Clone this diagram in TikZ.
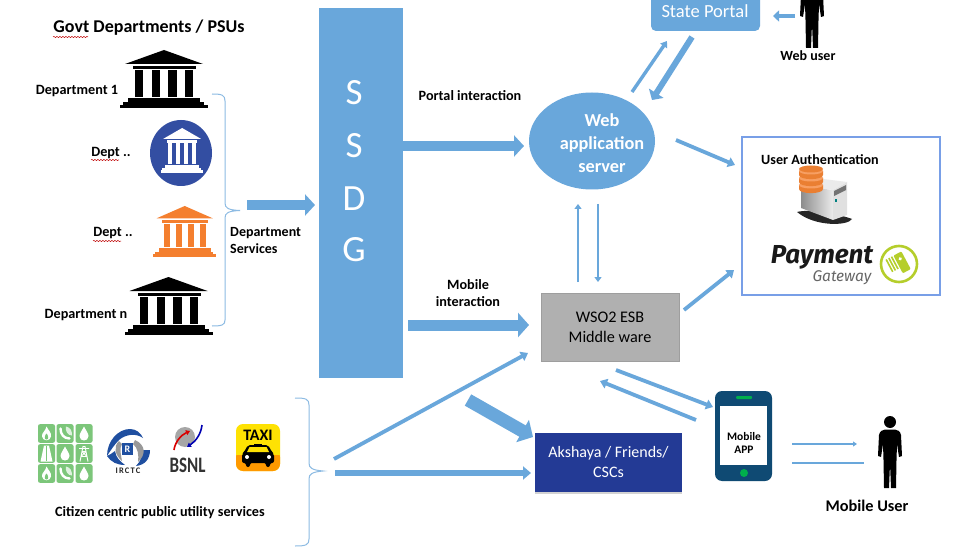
\documentclass[tikz,border=0pt]{standalone}
\usepackage{fontspec}
\usepackage{graphicx}
\setmainfont{Carlito}
\newfontfamily\payfont{Fira Sans}
\usetikzlibrary{arrows.meta,shapes.geometric,shadows}
\usetikzlibrary{decorations.pathmorphing}
\definecolor{ablue}{HTML}{69A7DB}
\definecolor{bracec}{HTML}{8DBBE3}
\definecolor{navyb}{HTML}{233A95}
\definecolor{circb}{HTML}{334EA2}
\definecolor{orng}{HTML}{F47F2F}
\definecolor{phone}{HTML}{0F4A73}
\definecolor{tile}{HTML}{7CC67A}
\definecolor{limeg}{HTML}{B5CE2B}
\definecolor{ircb}{HTML}{1F4FA0}
\tikzset{
 lbl/.style={font=\fontsize{14.2}{15}\selectfont\bfseries,text=black,inner sep=0pt,align=center},
 arrowA/.style={ablue,line width=10pt,-{Triangle[length=10pt,width=21pt]}},
 arrowB/.style={ablue,line width=3.8pt,-{Triangle[length=7pt,width=10pt]}},
 arrowC/.style={ablue,line width=2.6pt,-{Triangle[length=5pt,width=7pt]}},
 squig/.style={red!75!black,line width=.5pt,decorate,decoration={snake,amplitude=.6pt,segment length=3pt}},
 bracket/.style={bracec,line width=1pt},
 pics/temple/.style={code={
  \fill[#1] (5,14)--(44,0)--(83,14)--cycle;
  \fill[#1] (13,16) rectangle (76,19);
  \foreach \a/\b in {15/23,32/40,48/57,65/73}{\fill[#1] (\a,20) rectangle (\b,47);}
  \fill[#1] (8,48) rectangle (80,52);
  \fill[#1] (3,52) rectangle (84,55);
  \fill[#1] (0,55) rectangle (88,58);
 }},
 pics/person/.style={code={
  \fill[black] (0,-30) circle (6);
  \fill[black] (-5,-22.5) .. controls (-8,-22) and (-10,-21) .. (-11,-17)
    -- (-12,4) -- (-9,5) -- (-7,-8) -- (-6.5,8) -- (-6,36) -- (-1,36) -- (0,12) -- (1,36) -- (6,36)
    -- (6.5,8) -- (7,-8) -- (9,5) -- (12,4) -- (11,-17) .. controls (10,-21) and (8,-22) .. (5,-22.5) -- cycle;
 }},
 pics/drop/.style={code={\fill[white] (0,-7) .. controls (2,-3) and (4.5,0) .. (4.5,2.5) .. controls (4.5,8.5) and (-4.5,8.5) .. (-4.5,2.5) .. controls (-4.5,0) and (-2,-3) .. (0,-7) -- cycle;}},
 pics/flame/.style={code={\fill[white] (0,-7) .. controls (2,-3) and (5,-1) .. (4.5,3) .. controls (4,8) and (-4,8) .. (-4.5,3) .. controls (-5,-1) and (-1,-2) .. (0,-7) -- cycle; \fill[tile] (0,0) .. controls (2,2) and (2.5,6) .. (0,6) .. controls (-2.5,6) and (-2,2) .. (0,0) -- cycle;}},
 pics/tel/.style={code={\fill[white!75!tile] (1,-7) .. controls (6,-6) and (7,-2) .. (7,2) .. controls (3,2) and (0,-2) .. (1,-7) -- cycle; \draw[white,line width=2.4pt,line cap=round] (-4.5,-5) .. controls (-4.5,1) and (-1,5) .. (4.5,5);}},
 pics/road/.style={code={\fill[white] (-2.5,-8) -- (2.5,-8) -- (6,8) -- (-6,8) -- cycle; \draw[tile,line width=.8pt] (0,-7.5) -- (0,7.5);}},
 pics/tower/.style={code={\draw[white,line width=.9pt] (-4,8)--(-1,-7)--(1,-7)--(4,8) (-3,3)--(3,3) (-2,-2)--(2,-2) (-5,-5)--(5,-5) (-3,3)--(2,-2) (3,3)--(-2,-2);}},
}
\begin{document}
\begin{tikzpicture}[x=1pt,y=-1pt]
\useasboundingbox (0,0) rectangle (969,548);
\clip (0,0) rectangle (969,548);
\fill[white] (0,0) rectangle (969,548);

% --- main blocks
\node[fill=ablue,minimum width=84pt,minimum height=370pt,inner sep=0pt,anchor=north west] (ssdg) at (319,8) {};
\foreach \c/\y in {S/93,S/146,D/199,G/250}{\node[text=white,font=\fontsize{37}{40}\selectfont,inner sep=0pt] at (354,\y) {\c};}
\node[ellipse,fill=ablue,minimum width=126pt,minimum height=97pt,inner sep=0pt] (web) at (592,141) {};
\node[text=white,align=center,inner sep=0pt,font=\fontsize{18.3}{23}\selectfont\bfseries] (weblbl) at (602,143) {Web\\application\\server};
\fill[ablue,rounded corners=5pt] (651,-12) rectangle (760,31);
\node[text=white,font=\fontsize{18.5}{20}\selectfont,inner sep=0pt] (state) at (705,11) {State Portal};
\node[fill=black!31,draw=black!38,line width=.6pt,minimum width=138pt,minimum height=68pt,inner sep=0pt,align=center,font=\fontsize{16.2}{20}\selectfont] (esb) at (610,327) {WSO2 ESB\\Middle ware};
\node[fill=navyb,drop shadow={shadow xshift=0pt,shadow yshift=-1.5pt,opacity=.35},minimum width=147pt,minimum height=59pt,inner sep=0pt,align=center,text=white,font=\fontsize{16}{20}\selectfont] (aks) at (608.5,462.5) {Akshaya / Friends/\\CSCs};
\node[draw=bracec!85!blue,line width=1.2pt,minimum width=198pt,minimum height=158pt,inner sep=0pt] (auth) at (841,216) {};

% --- left column
\node[lbl,font=\fontsize{18}{20}\selectfont\bfseries] (govt) at (149,28) {Govt Departments / PSUs};
\draw[squig] (53,37) -- (88,37);
\pic at (120,50) {temple=black};
\node[lbl] (d1) at (77,91) {Department 1};
\fill[circb] (181,153) ellipse [x radius=31,y radius=33];
\pic[transform shape,xscale=.48,yscale=.77] at (161,128) {temple=white};
\node[lbl] (d2) at (111,153) {Dept ..};
\draw[squig] (91,160) -- (119,160);
\pic[transform shape,xscale=.72,yscale=.88] at (153,206) {temple=orng};
\node[lbl] (d3) at (113,233) {Dept ..};
\draw[squig] (93,241) -- (121,241);
\pic at (124.5,277) {temple=black};
\node[lbl] (dn) at (86,315) {Department n};
\draw[bracket] (212,94) .. controls (222,94) and (225,95) .. (225,101) -- (225,203) .. controls (225,208) and (228,210) .. (240,210.5) .. controls (228,211) and (225,213) .. (225,218) -- (225,320) .. controls (225,325) and (222,326) .. (212,326);
\node[lbl,align=left,anchor=west,font=\fontsize{14}{17}\selectfont\bfseries] (dserv) at (230,240.5) {Department\\Services};

% --- utilities
\foreach \cx/\cy/\ic in {46.5/433.5/flame,65/433.5/tel,84/433.5/drop,46.5/453.5/road,65/453.5/drop,84/453.5/tower,46.5/473.5/flame,65/473.5/tel,84/473.5/drop}{
 \fill[tile,rounded corners=2pt] (\cx-8.5,\cy-9.3) rectangle (\cx+8.5,\cy+9.3);
 \pic at (\cx,\cy) {\ic};
}
% IRCTC
\fill[ircb] (107,456) .. controls (107,441) and (118,429) .. (130,429) .. controls (136,429) and (141,433) .. (143,438) .. controls (136,433) and (126,434) .. (119,440) .. controls (114,445) and (111,450) .. (107,456) -- cycle;
\fill[ircb] (107,456) .. controls (111,462) and (117,465) .. (125,465) .. controls (120,461) and (116,458) .. (115,451) .. controls (112,453) and (110,455) .. (107,456) -- cycle;
\fill[ircb] (150,450) .. controls (150,459) and (145,465) .. (136,466) .. controls (141,461) and (142,456) .. (142,450) .. controls (145,450) and (148,450) .. (150,450) -- cycle;
\fill[black!40] (119,441) .. controls (113,447) and (115,455) .. (122,461) .. controls (121,454) and (119,449) .. (122,444) -- cycle;
\fill[black!40] (135,440) .. controls (146,445) and (146,455) .. (138,462) .. controls (139,455) and (138,448) .. (133,444) -- cycle;
\fill[ircb] (122,443) rectangle (133,455);
\node[text=white,font=\fontsize{10}{10}\selectfont\bfseries,inner sep=0pt] at (127.5,449.2) {R};
\node[font=\fontsize{8.5}{9}\selectfont\bfseries\addfontfeature{LetterSpace=14},text=black!85,inner sep=0pt] at (128,471) {IRCTC};
% BSNL
\fill[black!35] (185,437) circle (10);
\draw[red!85!black,line width=1.6pt,-{Triangle[length=4pt,width=5pt]}] (174,450) .. controls (175,442) and (181,435) .. (190,431);
\draw[blue!70!black,line width=1.6pt,-{Triangle[length=4pt,width=5pt]}] (202,425) .. controls (201,434) and (196,441) .. (187,447);
\node[font=\fontsize{17}{20}\selectfont\bfseries,text=black!80,inner sep=0pt] at (187.5,465) {\scalebox{1}[1.3]{BSNL}};
% Taxi
\fill[yellow!85!orange,rounded corners=7pt] (236,424) rectangle (280,471);
\fill[orange!80!yellow,rounded corners=7pt] (236,450) rectangle (280,471);
\fill[yellow!85!orange] (236,445) rectangle (280,455);
\node[font=\fontsize{16}{16}\selectfont\bfseries,inner sep=0pt] at (258,435) {TAXI};
\fill[black] (254,443.5) rectangle (262,446);
\fill[black,rounded corners=2pt] (248,445) -- (268,445) -- (272,452) -- (274,454) -- (274,463) -- (270,463) -- (270,467) -- (266,467) -- (266,463) -- (250,463) -- (250,467) -- (246,467) -- (246,463) -- (242,463) -- (242,454) -- (244,452) -- cycle;
\fill[yellow!85!orange] (249.5,447) -- (266.5,447) -- (269,452) -- (247,452) -- cycle;
\fill[white] (247,457) circle (2) (269,457) circle (2);
\node[lbl] (citizen) at (160,513) {Citizen centric public utility services};
\draw[bracket] (295,398) .. controls (306,398) and (309,399) .. (309,405) -- (309,463) .. controls (309,468) and (312,470) .. (323,471) .. controls (312,472) and (309,474) .. (309,479) -- (309,539) .. controls (309,545) and (306,546) .. (295,546);

% --- right column
\pic at (812,12) {person};
\node[lbl,font=\fontsize{14}{15}\selectfont\bfseries] (webuser) at (808,56) {Web user};
\node[lbl,font=\fontsize{14.1}{15}\selectfont\bfseries] (uauth) at (820,160) {User Authentication};
% server
\fill[black!85] (797,212) .. controls (812,208) and (845,216) .. (852,219) .. controls (848,226) and (815,227) .. (797,212) -- cycle;
\shade[left color=black!45,right color=black!8] (801,186) -- (833,190) -- (833,220) -- (801,208) -- cycle;
\fill[black!12] (833,190) -- (847,182) -- (847,215) -- (833,220) -- cycle;
\fill[black!8] (801,186) -- (815,178) -- (847,182) -- (833,190) -- cycle;
\fill[black!55] (834,191) -- (846,185) -- (846,190) -- (834,196) -- cycle;
\fill[teal] (835,199) rectangle (836.5,202);
\foreach \y in {185,178,171}{
 \fill[orng!80!brown] (799,\y) -- (799,\y+4) .. controls (799,\y+9.5) and (823,\y+9.5) .. (823,\y+4) -- (823,\y) -- cycle;
 \fill[orng!75!white] (811,\y) ellipse [x radius=12,y radius=3.5];
}
\fill[orng!80!brown] (811,169) ellipse [x radius=12,y radius=3.5];
% payment
\node[font=\fontsize{26}{30}\selectfont,text=black!90,inner sep=0pt] (pay) at (822,257) {\payfont\bfseries\itshape Payment};
\node[font=\fontsize{15.5}{20}\selectfont,text=black!60,inner sep=0pt] (gw) at (842,278) {\payfont\itshape Gateway};
\draw[limeg,line width=2.6pt] (899,264) circle (18);
\begin{scope}[shift={(899,264)},rotate=28]
\fill[limeg,rounded corners=1pt] (-1,-10) rectangle (8,10);
\fill[white] (3.5,-4) circle (1.8);
\foreach \x in {-4,-7,-10}{\fill[limeg] (\x,-10) rectangle (\x+1.6,4);}
\end{scope}
% phone
\fill[phone,rounded corners=7pt] (715,391) rectangle (772,481);
\fill[white] (720,406) rectangle (767,465);
\fill[green!55!black!70!cyan,rounded corners=1pt] (736,396) rectangle (752,399);
\fill[green!55!black!70!cyan] (744,473) circle (4);
\node[lbl,font=\fontsize{11.5}{13.5}\selectfont\bfseries] (app) at (744,443) {Mobile\\APP};
\pic at (890,452) {person};
\node[lbl,font=\fontsize{16.3}{18}\selectfont\bfseries] (muser) at (867,506) {Mobile User};

% --- connector ends
\coordinate (brd) at (247,205); \coordinate (ssdgin) at (315,205);
\coordinate (p1) at (403,146); \coordinate (webin) at (524,146);
\coordinate (m1) at (408,325); \coordinate (esbin) at (529,325);
\coordinate (w1) at (632,92); \coordinate (s1) at (667,41);
\coordinate (s2) at (692,37); \coordinate (w2) at (652,100);
\coordinate (wu) at (795,16); \coordinate (su) at (773,16);
\coordinate (w3) at (676,140); \coordinate (a1) at (735,165);
\coordinate (e1) at (684,310); \coordinate (a2) at (734,270);
\coordinate (e2) at (578,282); \coordinate (w4) at (578,204);
\coordinate (w5) at (598,204); \coordinate (e3) at (598,282);
\coordinate (e4) at (616,370); \coordinate (ph1) at (713,407);
\coordinate (ph2) at (696,420); \coordinate (e5) at (600,381);
\coordinate (ph3) at (792,444); \coordinate (mu1) at (857,444);
\coordinate (mu2) at (864,463); \coordinate (ph4) at (792,463);
\coordinate (br2) at (334,459); \coordinate (e6) at (528,353);
\coordinate (br3) at (335,473); \coordinate (ak1) at (531,473);
\coordinate (t1) at (468,400); \coordinate (ak2) at (533,437);

% --- connectors
\draw[arrowA] (brd) -- (ssdgin);
\draw[arrowA] (p1) -- (webin);
\draw[arrowA,line width=11pt,-{Triangle[length=11pt,width=24pt]}] (m1) -- (esbin);
\draw[arrowC,line width=3.4pt,-{Triangle[length=6pt,width=8pt]}] (w1) -- (s1);
\draw[ablue,line width=6pt,-{Triangle[length=8pt,width=17pt]}] (s2) -- (w2);
\draw[ablue,line width=4pt,-{Triangle[length=6pt,width=11pt]}] (wu) -- (su);
\draw[arrowB] (w3) -- (a1);
\draw[arrowB] (e1) -- (a2);
\draw[arrowC] (e2) -- (w4);
\draw[arrowC] (w5) -- (e3);
\draw[arrowB] (e4) -- (ph1);
\draw[arrowB] (ph2) -- (e5);
\draw[ablue,line width=1.8pt,-{Triangle[length=4pt,width=5pt]}] (ph3) -- (mu1);
\draw[ablue,line width=2.4pt] (ph4) -- (mu2);
\draw[arrowB] (br2) -- (e6);
\draw[ablue,line width=6pt,-{Triangle[length=8pt,width=13pt]}] (br3) -- (ak1);
\draw[ablue,line width=13pt,-{Triangle[length=12pt,width=25pt]}] (t1) -- (ak2);

% --- labels on connectors
\node[lbl] (plbl) at (470,96) {Portal interaction};
\node[lbl,font=\fontsize{14.2}{17}\selectfont\bfseries] (mlbl) at (468,293.5) {Mobile\\interaction};
\end{tikzpicture}
\end{document}
